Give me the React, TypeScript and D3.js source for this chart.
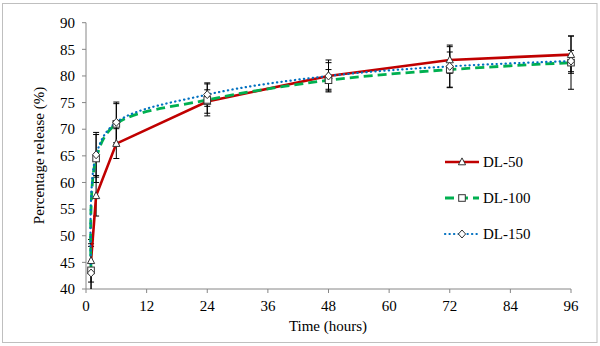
import React from "react";
import * as d3 from "d3";

const times = [1, 2, 6, 24, 48, 72, 96];
const dl50 = [45.3, 57.5, 67.3, 75.2, 80.0, 83.0, 84.0];
const dl50Err = [4.0, 3.8, 2.8, 2.2, 2.5, 2.5, 3.5];
const dl100 = [43.5, 64.5, 71.0, 75.5, 79.2, 81.2, 82.5];
const dl100Err = [5.0, 4.5, 3.8, 3.0, 2.0, 3.3, 5.0];
const dl150 = [43.0, 65.2, 71.3, 76.5, 80.0, 81.8, 82.8];
const dl150Err = [5.0, 4.2, 3.8, 2.2, 3.0, 4.0, 2.0];
const xTicks = [0, 12, 24, 36, 48, 60, 72, 84, 96];
const yTicks = [40, 45, 50, 55, 60, 65, 70, 75, 80, 85, 90];

const seriesNames = ["DL-50", "DL-100", "DL-150"];

const W = 600, H = 346;
const left = 86, right = 571, top = 22.7, bottom = 289;
const FONT = "Times New Roman, Liberation Serif, Tinos, DejaVu Serif, serif";

const styles = [
  { color: "#C00000", dash: "", width: 2.6, marker: "triangle", cap: "butt", curve: d3.curveLinear as any },
  { color: "#00B050", dash: "9,5", width: 2.8, marker: "square", cap: "butt", curve: d3.curveCatmullRom.alpha(0.5) as any },
  { color: "#0070C0", dash: "0.3,4.2", width: 2.2, marker: "diamond", cap: "round", curve: d3.curveCatmullRom.alpha(0.5) as any },
];

function Marker({ type, x, y }: { type: string; x: number; y: number }) {
  const s = 3.6;
  if (type === "triangle") {
    const p = `${x},${y - s - 0.5} ${x + s},${y + s - 0.8} ${x - s},${y + s - 0.8}`;
    return <polygon points={p} fill="#fff" stroke="#333" strokeWidth={1} />;
  }
  if (type === "square") {
    return <rect x={x - 3.3} y={y - 3.3} width={6.6} height={6.6} fill="#fff" stroke="#333" strokeWidth={1} />;
  }
  const p = `${x},${y - 4} ${x + 3.6},${y} ${x},${y + 4} ${x - 3.6},${y}`;
  return <polygon points={p} fill="#fff" stroke="#333" strokeWidth={1} />;
}

export default function App() {
  const x = d3.scaleLinear().domain([0, 96]).range([left, right]);
  const y = d3.scaleLinear().domain([40, 90]).range([bottom, top]);
  const data = [
    { vals: dl50, errs: dl50Err },
    { vals: dl100, errs: dl100Err },
    { vals: dl150, errs: dl150Err },
  ];
  const makeLine = (curve: any) =>
    d3
      .line<number>()
      .x((_, i) => x(times[i]))
      .y((d) => y(d))
      .curve(curve);

  const legendY = [162, 198, 234];

  return (
    <svg
      width={W}
      height={H}
      fontFamily={FONT}
      fontSize={15}
      style={{ position: "absolute", left: 0, top: 0, background: "#fff" }}
    >
      <rect x={2.5} y={3.5} width={594.5} height={339} fill="#fff" stroke="#bfbfbf" strokeWidth={1} />
      <defs>
        <clipPath id="plot">
          <rect x={left} y={top - 10} width={right - left + 10} height={bottom - top + 10} />
        </clipPath>
      </defs>
      <line x1={left} x2={left} y1={top} y2={bottom} stroke="#868686" strokeWidth={1} />
      <line x1={left} x2={right} y1={bottom} y2={bottom} stroke="#868686" strokeWidth={1} />
      {yTicks.map((t) => (
        <g key={"y" + t}>
          <line x1={left - 4} x2={left} y1={y(t)} y2={y(t)} stroke="#868686" />
          <text x={left - 11} y={y(t)} dy="0.35em" textAnchor="end" fill="#000">
            {t}
          </text>
        </g>
      ))}
      {xTicks.map((t) => (
        <g key={"x" + t}>
          <line x1={x(t)} x2={x(t)} y1={bottom} y2={bottom + 4} stroke="#868686" />
          <text x={x(t)} y={bottom + 22} textAnchor="middle" fill="#000">
            {t}
          </text>
        </g>
      ))}
      <text x={328} y={331} textAnchor="middle" fill="#000">
        Time (hours)
      </text>
      <text transform={`translate(44,155.5) rotate(-90)`} textAnchor="middle" fill="#000">
        Percentage release (%)
      </text>
      <g clipPath="url(#plot)">
        {data.map((s, si) =>
          s.vals.map((v, i) => {
            const hi = y(v + s.errs[i]);
            const lo = y(v - s.errs[i]);
            const cx = x(times[i]);
            return (
              <g key={`e${si}-${i}`} stroke="#000" strokeWidth={1}>
                <line x1={cx} x2={cx} y1={hi} y2={lo} />
                <line x1={cx - 3} x2={cx + 3} y1={hi} y2={hi} />
                <line x1={cx - 3} x2={cx + 3} y1={lo} y2={lo} />
              </g>
            );
          })
        )}
        {data.map((s, si) => (
          <path
            key={"l" + si}
            d={makeLine(styles[si].curve)(s.vals) || ""}
            fill="none"
            stroke={styles[si].color}
            strokeWidth={styles[si].width}
            strokeDasharray={styles[si].dash}
            strokeLinecap={styles[si].cap as any}
          />
        ))}
        {data.map((s, si) =>
          s.vals.map((v, i) => <Marker key={`m${si}-${i}`} type={styles[si].marker} x={x(times[i])} y={y(v)} />)
        )}
      </g>
      {seriesNames.map((n, i) => (
        <g key={n}>
          <line
            x1={445}
            x2={479}
            y1={legendY[i]}
            y2={legendY[i]}
            stroke={styles[i].color}
            strokeWidth={styles[i].width}
            strokeDasharray={styles[i].dash}
            strokeLinecap={styles[i].cap as any}
          />
          <Marker type={styles[i].marker} x={462} y={legendY[i]} />
          <text x={483} y={legendY[i]} dy="0.35em" fill="#000">
            {n}
          </text>
        </g>
      ))}
    </svg>
  );
}
